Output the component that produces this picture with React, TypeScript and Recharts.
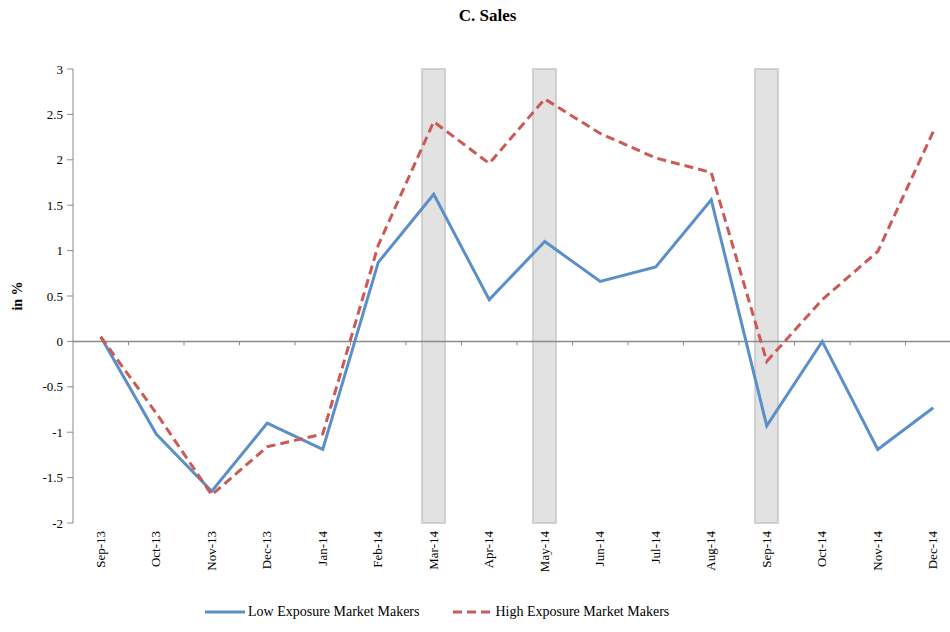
import React from "react";
import {
  ComposedChart,
  Line,
  Bar,
  XAxis,
  YAxis,
  ReferenceLine,
} from "recharts";

const months = [
  "Sep-13", "Oct-13", "Nov-13", "Dec-13", "Jan-14", "Feb-14", "Mar-14", "Apr-14",
  "May-14", "Jun-14", "Jul-14", "Aug-14", "Sep-14", "Oct-14", "Nov-14", "Dec-14",
];
const lowExposure = [
  0.05, -1.02, -1.65, -0.9, -1.19, 0.87, 1.62, 0.46,
  1.1, 0.66, 0.82, 1.56, -0.93, 0.0, -1.19, -0.73,
];
const highExposure = [
  0.05, -0.79, -1.69, -1.16, -1.02, 1.06, 2.42, 1.96,
  2.67, 2.29, 2.02, 1.86, -0.22, 0.46, 0.99, 2.31,
];
const shadedMonths = ["Mar-14", "May-14", "Sep-14"];
const yTicks = [-2, -1.5, -1, -0.5, 0, 0.5, 1, 1.5, 2, 2.5, 3];

const FONT = '"Liberation Serif", "Times New Roman", serif';
const BLUE = "#5A8FC9";
const RED = "#CB5A55";
const GREY = "#8A8A8A";

const yMin = yTicks[0];
const yMax = yTicks[yTicks.length - 1];

const data = months.map((month, i) => ({
  month,
  low: lowExposure[i],
  high: highExposure[i],
  shade: shadedMonths.includes(month) ? [yMin, yMax] : null,
}));

// rotated month labels under the plot
const MonthTick = (props: any) => {
  const { x, y, payload } = props;
  return (
    <text
      transform={`translate(${x + 4},${y}) rotate(-90)`}
      textAnchor="end"
      fontFamily={FONT}
      fontSize={13}
      fill="#000"
    >
      {payload.value}
    </text>
  );
};

// small tick marks hanging from the zero line, at category boundaries
const ZeroTicks = (props: any) => {
  const vb = props.viewBox;
  if (!vb) return null;
  const n = months.length;
  const step = vb.width / n;
  return (
    <g>
      {months.slice(1).map((m, i) => (
        <line
          key={m}
          x1={vb.x + step * (i + 1)}
          x2={vb.x + step * (i + 1)}
          y1={vb.y}
          y2={vb.y + 4}
          stroke={GREY}
          strokeWidth={1}
        />
      ))}
    </g>
  );
};

const YLabel = (props: any) => {
  const vb = props.viewBox;
  if (!vb) return null;
  const cx = vb.x + 22;
  const cy = vb.y + vb.height / 2;
  return (
    <text
      x={cx}
      y={cy}
      transform={`rotate(-90, ${cx}, ${cy})`}
      textAnchor="middle"
      fontFamily={FONT}
      fontSize={14}
      fontWeight="bold"
      fill="#000"
    >
      in %
    </text>
  );
};

export default function App() {
  return (
    <div
      style={{
        position: "absolute",
        left: 0,
        top: 0,
        width: 950,
        height: 632,
        overflow: "hidden",
        background: "#fff",
        fontFamily: FONT,
      }}
    >
      <div
        style={{
          position: "absolute",
          top: 6,
          left: 0,
          width: 975,
          textAlign: "center",
          fontSize: 17,
          fontWeight: "bold",
        }}
      >
        C. Sales
      </div>
      <ComposedChart
        width={990}
        height={632}
        data={data}
        margin={{ top: 69, right: 29, left: 0, bottom: 0 }}
        barGap={0}
      >
        <XAxis
          dataKey="month"
          interval={0}
          tickLine={false}
          axisLine={false}
          height={109}
          tick={<MonthTick />}
        />
        <YAxis
          domain={[yMin, yMax]}
          ticks={yTicks}
          width={73}
          interval={0}
          tickSize={6}
          tickMargin={4}
          stroke={GREY}
          tick={{ fontFamily: FONT, fontSize: 13, fill: "#000" }}
          label={<YLabel />}
        />
        <Bar
          dataKey="shade"
          barSize={23}
          fill="#E2E2E2"
          stroke="#C6C6C6"
          strokeWidth={1.5}
          isAnimationActive={false}
        />
        <ReferenceLine
          y={0}
          stroke={GREY}
          strokeWidth={1.5}
          label={<ZeroTicks />}
        />
        <Line
          type="linear"
          dataKey="low"
          stroke={BLUE}
          strokeWidth={3}
          dot={false}
          isAnimationActive={false}
        />
        <Line
          type="linear"
          dataKey="high"
          stroke={RED}
          strokeWidth={3}
          strokeDasharray="9 5"
          dot={false}
          isAnimationActive={false}
        />
      </ComposedChart>
      <div
        style={{
          position: "absolute",
          top: 604,
          left: 205,
          display: "flex",
          alignItems: "center",
          fontSize: 14,
          whiteSpace: "nowrap",
        }}
      >
        <svg width={40} height={6} style={{ marginRight: 3 }}>
          <line x1={0} y1={3} x2={40} y2={3} stroke={BLUE} strokeWidth={3} />
        </svg>
        <span>Low Exposure Market Makers</span>
        <svg width={38} height={6} style={{ marginLeft: 34, marginRight: 4 }}>
          <line
            x1={0}
            y1={3}
            x2={38}
            y2={3}
            stroke={RED}
            strokeWidth={3}
            strokeDasharray="9 5"
          />
        </svg>
        <span>High Exposure Market Makers</span>
      </div>
    </div>
  );
}
